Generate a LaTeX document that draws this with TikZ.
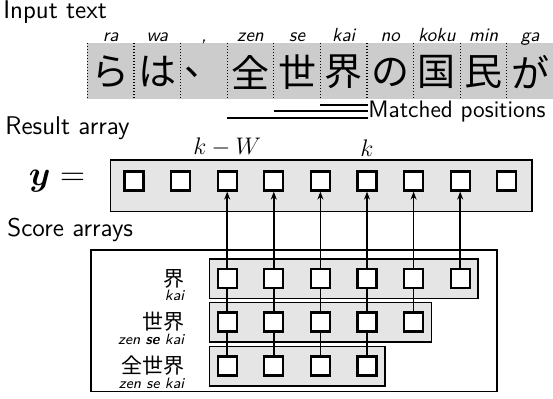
\documentclass[tikz,border=0pt]{standalone}
\usepackage{fontspec}
\usepackage{bm}
\newfontfamily\jpfont{Noto Sans CJK JP}
\usetikzlibrary{positioning,fit,backgrounds,arrows.meta}

\tikzset{
  lbl/.style={inner sep=0pt, anchor=west, font=\sffamily\fontsize{12.8}{14}\selectfont},
  inchar/.style={inner sep=0pt, font=\jpfont\fontsize{19}{20}\selectfont},
  roma/.style={inner sep=0pt, anchor=base, font=\sffamily\itshape\fontsize{9.5}{10}\selectfont},
  jplbl/.style={inner sep=0pt, font=\jpfont\fontsize{10.5}{11}\selectfont},
  rolbl/.style={inner sep=0pt, font=\sffamily\itshape\fontsize{7.5}{8}\selectfont},
  mathlbl/.style={inner sep=0pt, font=\fontsize{12.5}{14}\selectfont},
  cell/.style={draw, fill=white, line width=1.1pt, minimum size=9.5pt, inner sep=0pt},
  rowbox/.style={draw, fill=black!10, line width=0.7pt, inner xsep=3.6pt, inner ysep=4.6pt},
  feed/.style={line width=0.8pt, -{Stealth[length=4pt,width=3pt]}},
  link/.style={line width=0.8pt},
  hit/.style={line width=1.1pt},
  cellsep/.style={dash pattern=on 0.5pt off 1pt, line width=0.6pt},
}

\begin{document}
\begin{tikzpicture}[x=0.5pt,y=-0.5pt]
  \useasboundingbox (0,0) rectangle (553,398);

  % input text
  \node[lbl] (intext) at (3,12) {Input text};
  \fill[black!20] (87.4,43) rectangle (553.4,99);
  \foreach \i in {0,...,9}
    \draw[cellsep] ({87.4+46.6*\i},43) -- ++(0,56);
  \foreach \ch/\ro [count=\i] in {ら/ra,は/wa,、/{,},全/zen,世/se,界/kai,の/no,国/koku,民/min,が/ga}{
    \node[inchar] (ch\i) at ({64.1+46.6*\i},72) {\ch};
    \node[roma] (ro\i) at ({64.1+46.6*\i},41) {\ro};
  }

  % matched positions
  \node[lbl, font=\sffamily\fontsize{11.9}{13}\selectfont] (match) at (368,112) {Matched positions};
  \coordinate (hit1) at (320.4,105);
  \coordinate (hit2) at (273.8,111);
  \coordinate (hit3) at (227.2,117.7);
  \foreach \m in {1,2,3}
    \draw[hit] (hit\m) -- (hit\m -| match.west);

  % result array
  \node[lbl] (reslbl) at (5,128) {Result array};
  \draw[line width=0.7pt, fill=black!10] (110.7,160) rectangle (532,211.7);
  \foreach \i in {1,...,9}
    \node[cell] (y\i) at ({87.4+46.6*\i},181) {};
  \node[inner sep=0pt, font=\fontsize{17}{18}\selectfont, left=19pt of y1] (yeq) {$\bm{y} =$};
  \node[mathlbl, above=7pt of y3] (kW) {$k-W$};
  \node[mathlbl, above=7pt of y6] (k) {$k$};

  % score arrays
  \node[lbl] (sclbl) at (7,230) {Score arrays};
  \draw[line width=0.7pt] (91,250) rectangle (497,391.7);
  \foreach \j in {3,...,8}
    \node[cell] (uni\j) at ({87.4+46.6*\j},278.8) {};
  \foreach \j in {3,...,7}
    \node[cell] (bi\j) at ({87.4+46.6*\j},322) {};
  \foreach \j in {3,...,6}
    \node[cell] (tri\j) at ({87.4+46.6*\j},366) {};
  \begin{scope}[on background layer]
    \node[rowbox, fit=(uni3)(uni8)] (unirow) {};
    \node[rowbox, fit=(bi3)(bi7)] (birow) {};
    \node[rowbox, fit=(tri3)(tri6)] (trirow) {};
  \end{scope}

  \node[jplbl, left=16pt of uni3] (unilbl) {界};
  \node[rolbl, below=0.6pt of unilbl.south east, anchor=north east] (uniro) {kai};
  \node[jplbl, left=16pt of bi3] (bilbl) {世界};
  \node[rolbl, below=0.6pt of bilbl.south east, anchor=north east] (biro) {zen \textbf{se} kai};
  \node[jplbl, left=16pt of tri3] (trilbl) {全世界};
  \node[rolbl, below=0.6pt of trilbl.south east, anchor=north east] (triro) {zen se kai};

  \foreach \j in {3,...,8}
    \draw[feed] (uni\j) -- (y\j);
  \foreach \j in {3,...,7}
    \draw[link] (bi\j) -- (uni\j);
  \foreach \j in {3,...,6}
    \draw[link] (tri\j) -- (bi\j);
\end{tikzpicture}
\end{document}
